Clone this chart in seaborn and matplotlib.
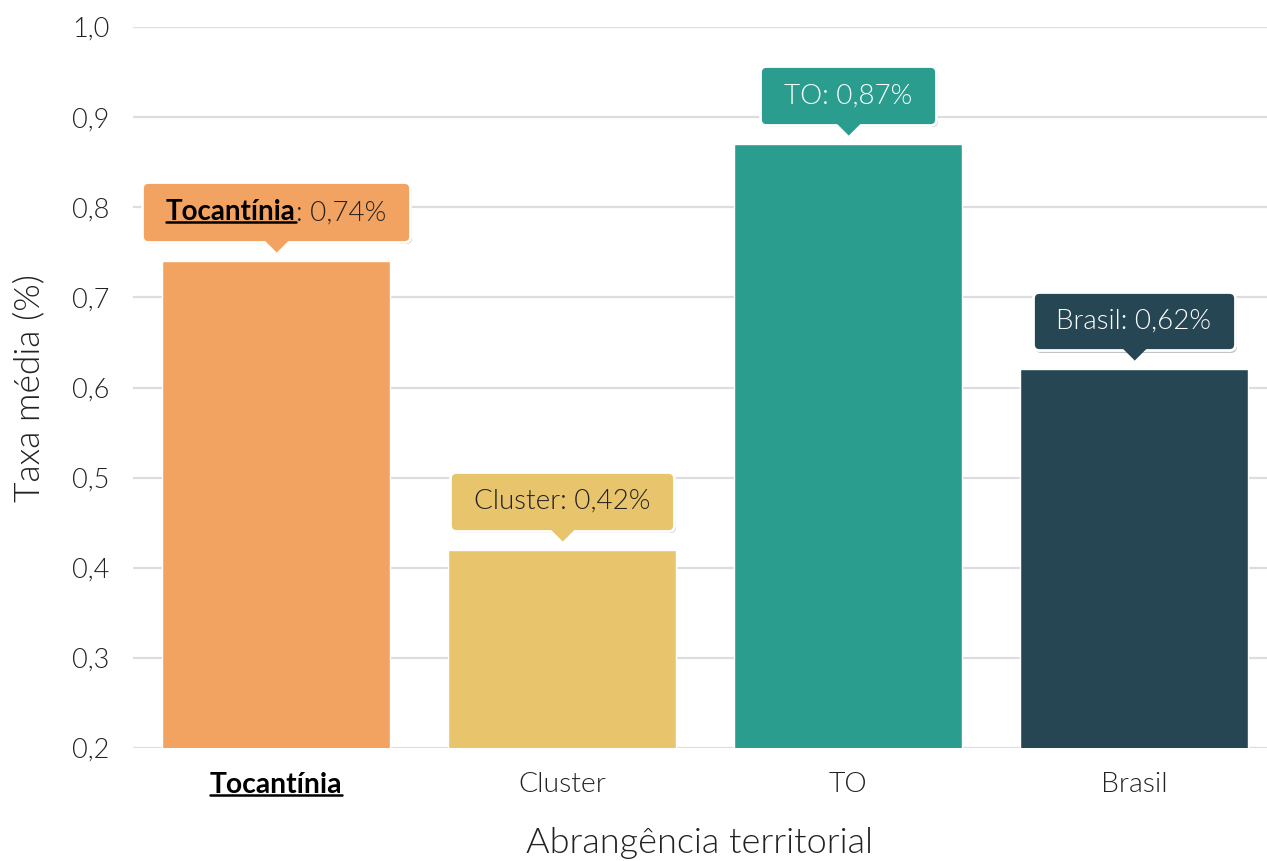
import matplotlib
matplotlib.use('Agg')
import pandas as pd
import seaborn as sns
import matplotlib.pyplot as plt
import matplotlib.transforms as mtransforms
from matplotlib import patheffects as pe
from matplotlib.offsetbox import TextArea, HPacker, DrawingArea, AnnotationBbox
from matplotlib.lines import Line2D

# dados
categorias = ['Tocantínia', 'Cluster', 'TO', 'Brasil']
taxas = [0.74, 0.42, 0.87, 0.62]
rotulos = ['0,74%', '0,42%', '0,87%', '0,62%']
cores = ['#F2A361', '#E8C46C', '#2A9D8F', '#264653']
cor_texto = ['#222222', '#222222', '#ffffff', '#ffffff']
yticks = [0.2, 0.3, 0.4, 0.5, 0.6, 0.7, 0.8, 0.9, 1.0]
ytick_labels = ['0,2', '0,3', '0,4', '0,5', '0,6', '0,7', '0,8', '0,9', '1,0']

df = pd.DataFrame({'categoria': categorias, 'taxa': taxas})

sns.set_theme(style='white')
plt.rcParams['font.family'] = ['Lato', 'DejaVu Sans']

W, H = 1267, 861
fig = plt.figure(figsize=(W / 100, H / 100), dpi=100)
ax = fig.add_axes([133 / W, (H - 748) / H, (W - 133) / W, (748 - 27) / H])

sns.barplot(data=df, x='categoria', y='taxa', hue='categoria', palette=cores,
            legend=False, width=0.8, saturation=1, ax=ax, zorder=2)

ax.set_ylim(0.2, 1.0)
ax.set_xlim(-0.5, (W - 276) / 286)
ax.set_yticks(yticks)
ax.set_yticklabels(ytick_labels)
ax.grid(axis='y', color='#dddddd', lw=1.6, zorder=0)
ax.set_axisbelow(True)
for s in ax.spines.values():
    s.set_visible(False)
ax.tick_params(axis='both', length=0, labelcolor='#222222')
ax.tick_params(axis='y', pad=17, labelsize=19.5)
ax.tick_params(axis='x', pad=17, labelsize=20.3)
for lab in ax.get_yticklabels() + ax.get_xticklabels():
    lab.set_fontweight(300)
ax.get_xticklabels()[0].set_fontweight('bold')
ax.get_xticklabels()[0].set_color('#000000')

ax.set_xlabel('Abrangência territorial', fontsize=26, fontweight=300,
              color='#222222', labelpad=21)
ax.set_ylabel('Taxa média (%)', fontsize=25.5, fontweight=300,
              color='#222222', labelpad=19)

# balões
sombra = [pe.SimplePatchShadow(offset=(1.5, -1.5), alpha=0.35, shadow_rgbFace='#555555'),
          pe.Normal()]
fs = 20
margem = 5
texto_negrito = None
for i, (cat, v) in enumerate(zip(categorias, taxas)):
    if i == 0:
        texto_negrito = TextArea(cat, textprops=dict(fontsize=fs, fontweight='bold', color='#000000'))
        partes = [texto_negrito,
                  TextArea(': ' + rotulos[i], textprops=dict(fontsize=fs, fontweight=300, color=cor_texto[i]))]
    else:
        partes = [TextArea(cat + ': ' + rotulos[i],
                           textprops=dict(fontsize=fs, fontweight=300, color=cor_texto[i]))]
    conteudo = HPacker(children=[DrawingArea(margem, 1)] + partes + [DrawingArea(margem, 1)],
                       align='baseline', pad=0, sep=0)
    ab = AnnotationBbox(conteudo, (i, v), xybox=(0, 36), boxcoords='offset pixels',
                        box_alignment=(0.5, 0), frameon=True, fontsize=fs,
                        bboxprops=dict(boxstyle='round,pad=0.61,rounding_size=0.22',
                                       fc=cores[i], ec='white', lw=2))
    ab.patch.set_path_effects(sombra)
    ab.set_zorder(4)
    ax.add_artist(ab)
    tr = mtransforms.offset_copy(ax.transData, fig=fig, x=0, y=21, units='dots')
    ax.plot([i], [v], marker=[(-1, 0), (1, 0), (0, -1)], ms=17, color=cores[i],
            mec=cores[i], mew=0.5, transform=tr, zorder=5, clip_on=False)

# sublinhados
fig.canvas.draw()
r = fig.canvas.get_renderer()
for txt in [ax.get_xticklabels()[0], texto_negrito._text]:
    bb = txt.get_window_extent(r)
    fig.add_artist(Line2D([bb.x0, bb.x1], [bb.y0 + 3, bb.y0 + 3], color='black',
                          lw=1.8, transform=None, zorder=10))

plt.savefig('out.png', dpi=100)
